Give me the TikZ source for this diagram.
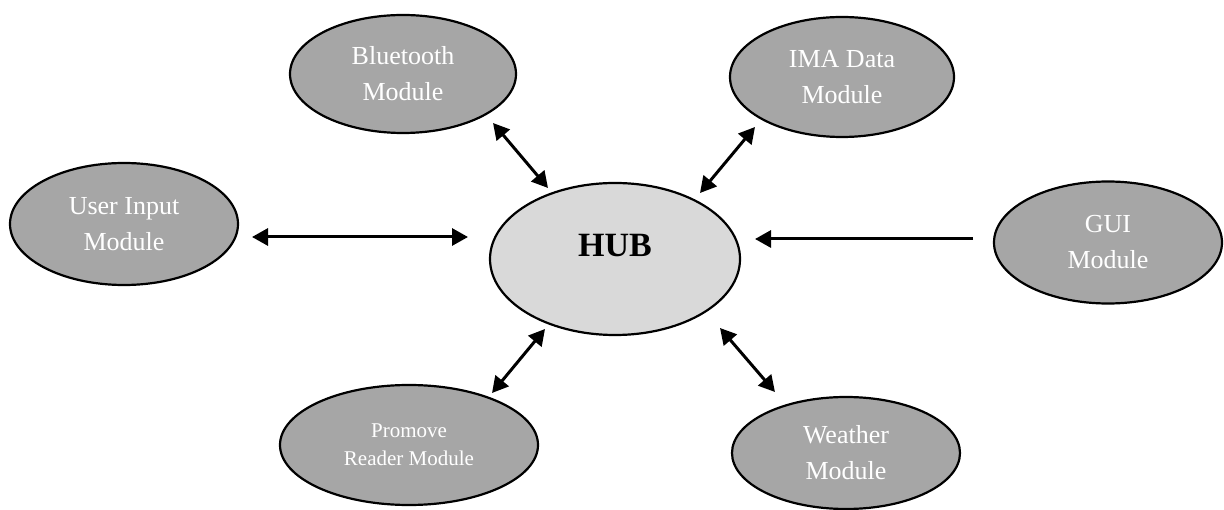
\documentclass[tikz,border=0pt]{standalone}
\usepackage{fontspec}
\setmainfont{Liberation Serif}
\usetikzlibrary{shapes.geometric,arrows.meta}
\definecolor{modfill}{HTML}{A6A6A6}
\definecolor{hubfill}{HTML}{D9D9D9}
\tikzset{
  module/.style={ellipse, draw=black, line width=2.2pt, fill=modfill, inner sep=0pt,
    text=white, align=center, font=\fontsize{26}{36}\selectfont},
  hubshape/.style={ellipse, draw=black, line width=2.2pt, fill=hubfill, inner sep=0pt},
  link/.style={line width=3pt, {Triangle[length=16pt,width=17pt]}-{Triangle[length=16pt,width=17pt]}},
  oneway/.style={line width=3pt, -{Triangle[length=16pt,width=17pt]}}
}
\begin{document}
\begin{tikzpicture}[x=1pt,y=-1pt]
\useasboundingbox (0,0) rectangle (1224,510);

% central hub
\node[hubshape, minimum width=250pt, minimum height=152pt] (hub) at (615,259) {};
\node[font=\fontsize{34}{40}\selectfont\bfseries] (hublabel) at (615,246) {HUB};

% surrounding modules
\node[module, minimum width=228pt, minimum height=122pt] (user) at (124,224) {User Input\\Module};
\node[module, minimum width=226pt, minimum height=118pt] (blue) at (403,74) {Bluetooth\\Module};
\node[module, minimum width=224pt, minimum height=120pt] (ima) at (842,77) {IMA Data\\Module};
\node[module, minimum width=228pt, minimum height=122pt] (gui) at (1108,242.5) {GUI\\Module};
\node[module, minimum width=258pt, minimum height=120pt, font=\fontsize{21}{28}\selectfont] (prom) at (409,445) {Promove\\Reader Module};
\node[module, minimum width=228pt, minimum height=112pt] (weather) at (846,453) {Weather\\Module};

% connector end points
\coordinate (userA) at (252,237);  \coordinate (userB) at (468,237);
\coordinate (blueA) at (493,123);  \coordinate (blueB) at (548,188);
\coordinate (imaA)  at (755,127);  \coordinate (imaB)  at (700,193);
\coordinate (guiA)  at (973,239);  \coordinate (guiB)  at (755,239);
\coordinate (promA) at (492,393);  \coordinate (promB) at (545,329);
\coordinate (weaA)  at (775,392);  \coordinate (weaB)  at (720,328);

% connectors
\draw[link] (userA) -- (userB);
\draw[link] (blueA) -- (blueB);
\draw[link] (imaA) -- (imaB);
\draw[oneway] (guiA) -- (guiB);
\draw[link] (promA) -- (promB);
\draw[link] (weaA) -- (weaB);
\end{tikzpicture}
\end{document}
